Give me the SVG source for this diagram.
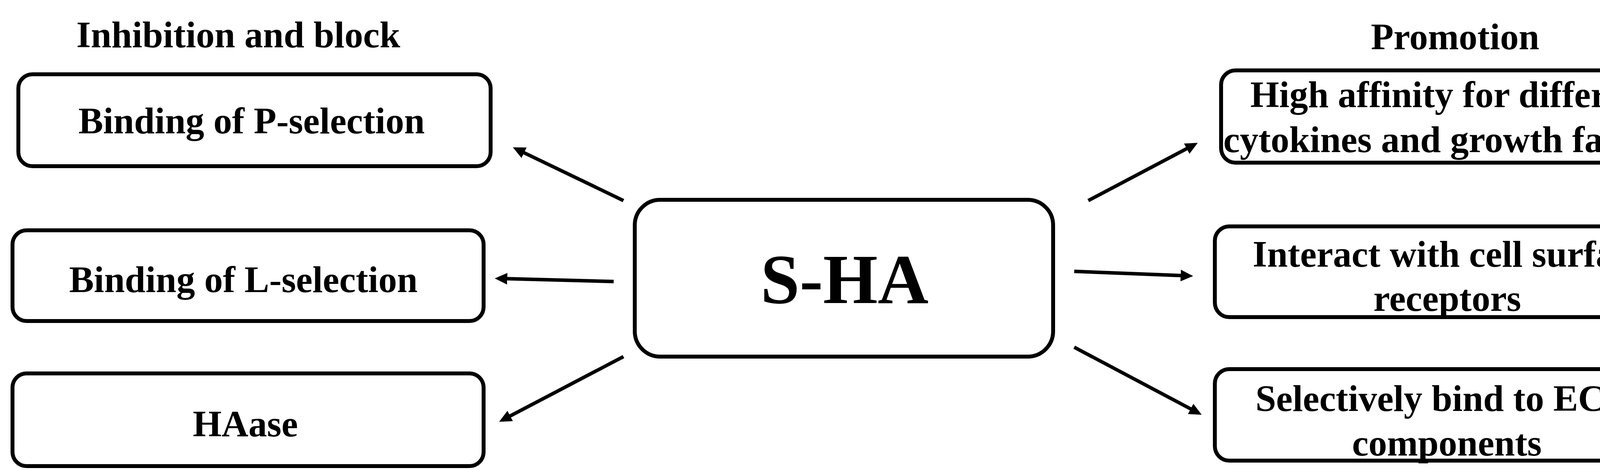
<svg xmlns="http://www.w3.org/2000/svg" width="4380" height="1202" viewBox="0 0 4380 1202">
  <style>
    .box { fill: #ffffff; stroke: #000000; stroke-width: 10; }
    .t { font-family: "Liberation Serif", "Times New Roman", serif; font-weight: bold; font-size: 95px; fill: #000000; text-anchor: middle; }
    .big { font-size: 180px; }
    .conn { stroke: #000000; stroke-width: 9; fill: none; marker-end: url(#arrow); }
  </style>
  <defs>
    <marker id="arrow" markerUnits="userSpaceOnUse" markerWidth="32" markerHeight="32" viewBox="0 0 30 30" refX="8" refY="15" orient="auto">
      <path d="M0,1 L30,15 L0,29 z" fill="#000000"/>
    </marker>
  </defs>
  <rect width="4380" height="1202" fill="#ffffff"/>

  <text class="t" x="610" y="121">Inhibition and block</text>
  <text class="t" x="3725" y="126">Promotion</text>

  <g id="node-p-selection">
    <rect class="box" x="47" y="190" width="1209" height="235" rx="36" ry="36"/>
    <text class="t" x="644" y="341">Binding of P-selection</text>
  </g>
  <g id="node-l-selection">
    <rect class="box" x="32" y="589" width="1206" height="232" rx="36" ry="36"/>
    <text class="t" x="623" y="747">Binding of L-selection</text>
  </g>
  <g id="node-haase">
    <rect class="box" x="32" y="955" width="1206" height="237" rx="36" ry="36"/>
    <text class="t" x="628" y="1116">HAase</text>
  </g>
  <g id="node-sha">
    <rect class="box" x="1625" y="511" width="1071" height="401" rx="65" ry="65"/>
    <text class="t big" x="2162" y="775">S-HA</text>
  </g>
  <g id="node-affinity">
    <rect class="box" x="3126" y="180" width="1208" height="236" rx="37" ry="37"/>
    <text class="t" x="3720" y="274">High affinity for different</text>
    <text class="t" x="3718" y="389">cytokines and growth factors</text>
  </g>
  <g id="node-receptors">
    <rect class="box" x="3110" y="579" width="1206" height="232" rx="37" ry="37"/>
    <text class="t" x="3712" y="682">Interact with cell surface</text>
    <text class="t" x="3705" y="795">receptors</text>
  </g>
  <g id="node-ecm">
    <rect class="box" x="3110" y="944" width="1208" height="234" rx="37" ry="37"/>
    <text class="t" x="3706" y="1051">Selectively bind to ECM</text>
    <text class="t" x="3704" y="1165">components</text>
  </g>

  <g id="connectors">
    <line class="conn" x1="1596" y1="513" x2="1334" y2="387"/>
    <line class="conn" x1="1571" y1="720" x2="1290" y2="712.6"/>
    <line class="conn" x1="1596" y1="912" x2="1298.5" y2="1067.8"/>
    <line class="conn" x1="2786" y1="513" x2="3045.5" y2="376.3"/>
    <line class="conn" x1="2750" y1="694" x2="3031" y2="705"/>
    <line class="conn" x1="2750" y1="888" x2="3055.6" y2="1049.7"/>
  </g>
</svg>
